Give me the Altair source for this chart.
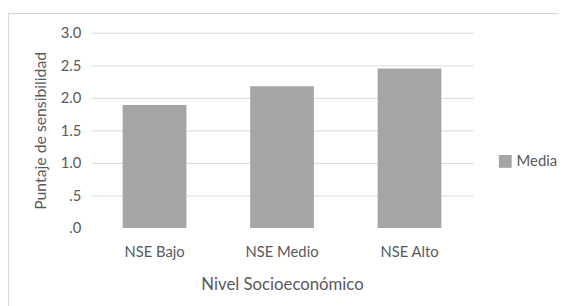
import altair as alt
import pandas as pd

categorias = ["NSE Bajo", "NSE Medio", "NSE Alto"]
medias = [1.89, 2.18, 2.45]
serie = ["Media", "Media", "Media"]

df = pd.DataFrame({"nse": categorias, "media": medias, "serie": serie})

FONT = "Lato"
TXT = "#595959"

bars = alt.Chart(df).mark_bar(color="#a5a5a5").encode(
    x=alt.X("nse:N", sort=categorias,
            scale=alt.Scale(paddingInner=0.5, paddingOuter=0.25),
            axis=alt.Axis(title="Nivel Socioeconómico", labelAngle=0, domain=False, ticks=False,
                          labelPadding=17, titlePadding=17, labelFontSize=15, titleFontSize=17,
                          labelColor=TXT, titleColor=TXT, labelFont=FONT, titleFont=FONT,
                          titleFontWeight="normal", grid=False)),
    y=alt.Y("media:Q", scale=alt.Scale(domain=[0, 3]),
            axis=alt.Axis(title="Puntaje de sensibilidad", values=[0, 0.5, 1, 1.5, 2, 2.5, 3],
                          labelExpr="datum.value < 1 ? replace(format(datum.value, '.1f'), '0.', '.') : format(datum.value, '.1f')",
                          domain=False, ticks=False, labelPadding=10, titlePadding=12,
                          labelFontSize=15, titleFontSize=16, labelColor=TXT, titleColor=TXT,
                          labelFont=FONT, titleFont=FONT, titleFontWeight="normal",
                          gridColor="#d9d9d9", gridOpacity={"expr": "datum.value == 0 ? 0 : 1"})),
    color=alt.Color("serie:N", scale=alt.Scale(range=["#a5a5a5"]),
                    legend=alt.Legend(title=None, orient="none", legendX=413, legendY=123,
                                      symbolType="square", symbolSize=169, symbolStrokeWidth=0,
                                      labelFontSize=15, labelColor=TXT, labelFont=FONT,
                                      padding=0, labelOffset=4)),
)

frame_top = alt.Chart(df).mark_rule(color="#d9d9d9", strokeWidth=1, clip=False).encode(
    x=alt.value(-84), x2=alt.value(480), y=alt.value(-19.5)
)
frame_left = alt.Chart(df).mark_rule(color="#d9d9d9", strokeWidth=1, clip=False).encode(
    x=alt.value(-83.5), y=alt.value(-20), y2=alt.value(280)
)

chart = alt.layer(frame_top, frame_left, bars).properties(
    width=388, height=198,
    autosize=alt.AutoSizeParams(type="none"),
    padding={"left": 84, "top": 23, "right": 87, "bottom": 77},
).configure_view(stroke=None)

chart.save("out.html", embed_options={"renderer": "svg", "actions": False})
